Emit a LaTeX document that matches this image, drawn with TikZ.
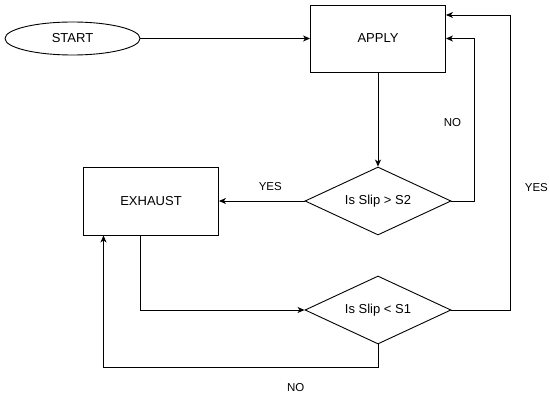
\documentclass[tikz,border=0pt]{standalone}
\usepackage{fontspec}
\setmainfont{Liberation Sans}
\usepackage{tikz}
\usetikzlibrary{positioning,arrows.meta,shapes.geometric}

\begin{document}
\begin{tikzpicture}[x=1pt, y=-1pt, font=\fontsize{13}{15}\selectfont,
  box/.style={draw, line width=0.9pt, minimum width=135pt, minimum height=67pt, inner sep=0pt},
  term/.style={draw, line width=0.9pt, ellipse, minimum width=135pt, minimum height=33pt, inner sep=0pt},
  cond/.style={draw, line width=0.9pt, diamond, aspect=2, minimum width=146pt, minimum height=68pt, inner sep=0pt},
  arr/.style={-{Stealth[length=7pt, width=6pt, inset=2pt]}, line width=0.9pt},
  lbl/.style={font=\fontsize{11.5}{13}\selectfont, inner sep=1pt}]
\useasboundingbox (0,0) rectangle (550,396);
\node[term] (start) at (72.5,38.5) {START};
\node[box] (apply) at (378,38.5) {APPLY};
\node[cond] (slip2) at (378,201) {Is Slip > S2};
\node[box, minimum height=68pt] (exhaust) at (151,201) {EXHAUST};
\node[cond] (slip1) at (378,310) {Is Slip < S1};
\draw[arr] (start) -- (apply);
\draw[arr] (apply) -- (slip2);
\draw[arr] (slip2) -- node[lbl, above=9pt, pos=0.4] {YES} (exhaust);
\draw[arr] (slip2.east) -- ++(23,0) |- node[lbl, pos=0.24, left=12pt] {NO} (apply.east);
\draw[arr] (slip1.east) -- ++(59,0) |- node[lbl, pos=0.207, right=13pt] {YES} ([yshift=23.5pt]apply.east);
\draw[arr] ([xshift=-11pt]exhaust.south) |- (slip1.west);
\draw[arr] (slip1.south) -- ++(0,23) -| node[lbl, pos=0.15, below=15pt] {NO} ([xshift=-47.5pt]exhaust.south);
\end{tikzpicture}
\end{document}
